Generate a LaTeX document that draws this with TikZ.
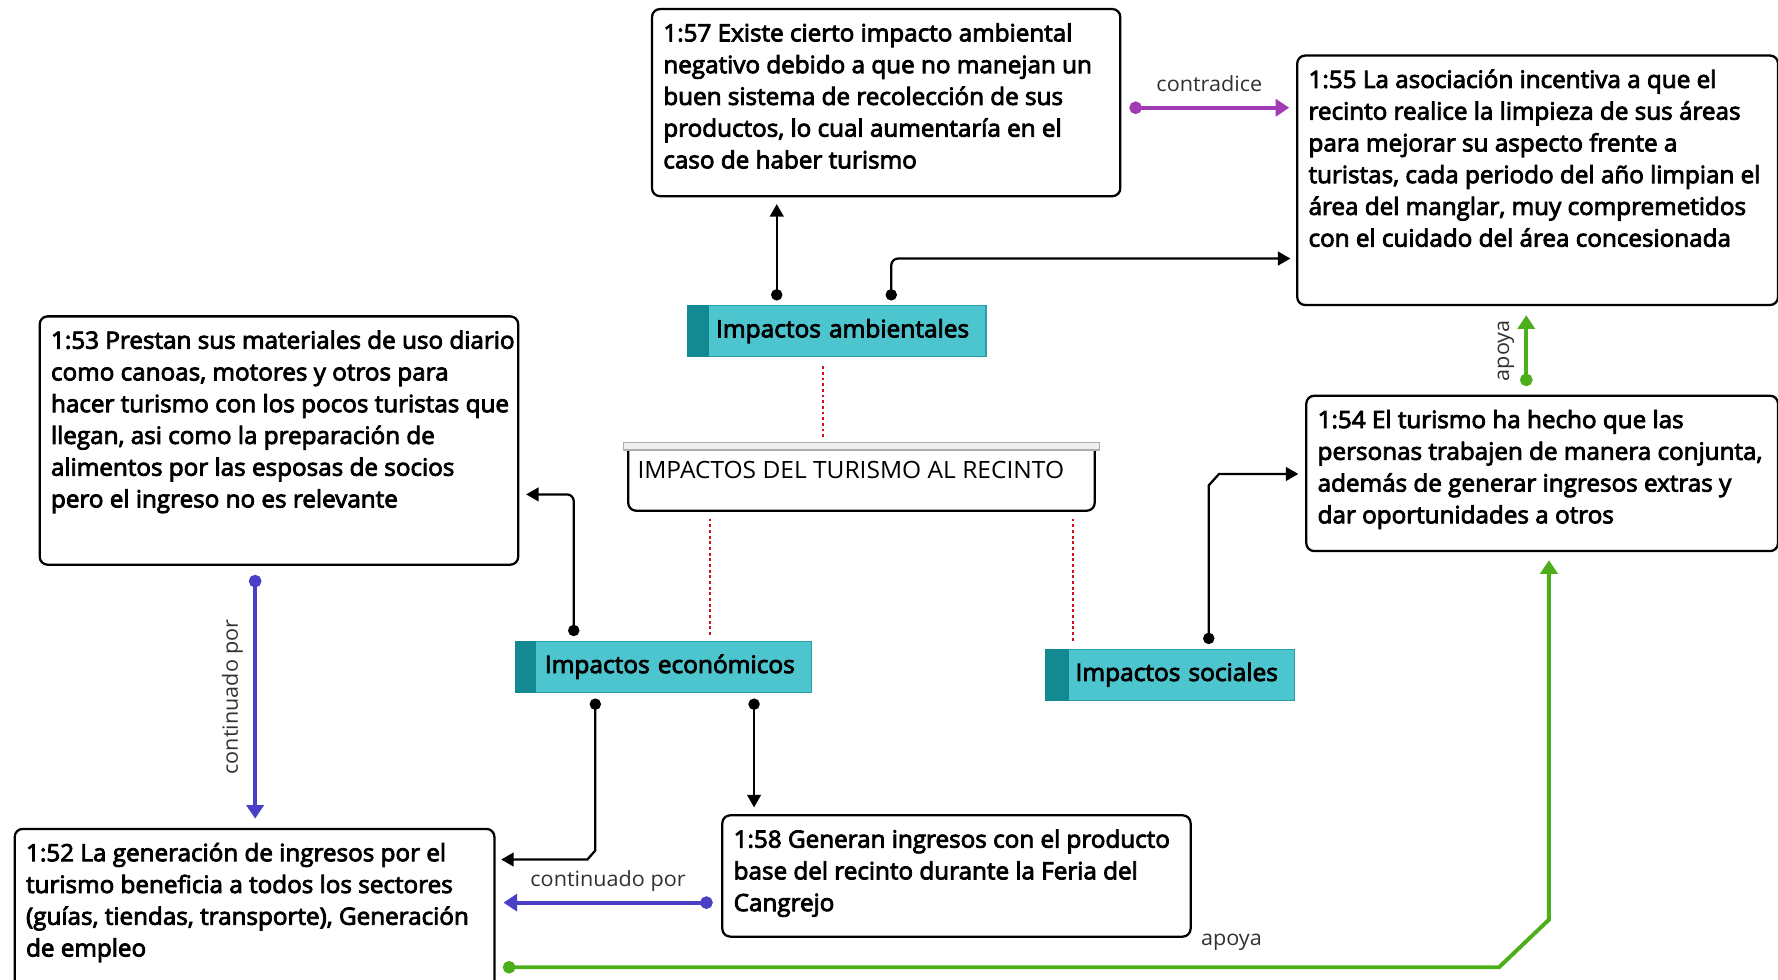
\documentclass[tikz,border=0pt]{standalone}
\usepackage{fontspec}
\setmainfont{Open Sans}
\newfontfamily\bxf{Open Sans}[FakeBold=3.5,FakeStretch=1.018]
\newfontfamily\rgf{Open Sans}[FakeStretch=1.03]
\usetikzlibrary{arrows.meta,calc}
\definecolor{tealfill}{RGB}{77,197,207}
\definecolor{tealdark}{RGB}{19,138,146}
\definecolor{tealline}{RGB}{40,158,168}
\definecolor{linkpurple}{RGB}{161,60,180}
\definecolor{linkblue}{RGB}{75,63,198}
\definecolor{linkgreen}{RGB}{76,175,26}
\definecolor{dotred}{RGB}{208,16,26}
\definecolor{labelgray}{RGB}{50,50,50}
\newcommand{\boxtxt}[3]{\parbox[c][#2][t]{#1}{\bxf\fontsize{21pt}{28pt}\selectfont\begin{tabular}[t]{@{}l@{}}\rule{0pt}{28.5pt}#3\end{tabular}}}
\tikzset{
  txtbox/.style={draw=black, line width=2pt, rounded corners=7pt, fill=white, inner xsep=10pt, inner ysep=0pt, anchor=north west},
  tealbox/.style={fill=tealfill, draw=tealline, line width=1pt, minimum height=45pt, inner xsep=0pt, inner ysep=0pt, anchor=north west, align=left, font=\bxf\fontsize{21.2pt}{24pt}\selectfont},
  conn/.style={line width=2pt, black, {Circle[length=10pt]}-{Triangle[length=11pt,width=12pt]}},
  clink/.style={line width=3.5pt, {Circle[length=11pt]}-{Triangle[length=12pt,width=15pt]}},
  redline/.style={dotred, line width=1.8pt, dash pattern=on 2.5pt off 2.5pt},
  lbl/.style={text=labelgray, font=\rgf\fontsize{18.5pt}{20pt}\selectfont, inner sep=2pt}
}
\begin{document}
\begin{tikzpicture}[x=1pt,y=-1pt]
\useasboundingbox (0,0) rectangle (1568,864);

% text boxes
\node[txtbox] (b57) at (574,7) {\boxtxt{393pt}{165pt}{1:57 Existe cierto impacto ambiental\\negativo debido a que no manejan un\\buen sistema de recolección de sus\\productos, lo cual aumentaría en el\\caso de haber turismo}};
\node[txtbox] (b55) at (1143,48) {\boxtxt{404pt}{220pt}{1:55 La asociación incentiva a que el\\recinto realice la limpieza de sus áreas\\para mejorar su aspecto frente a\\turistas, cada periodo del año limpian el\\área del manglar, muy compremetidos\\con el cuidado del área concesionada}};
\node[txtbox] (b53) at (34,278) {\boxtxt{402pt}{219pt}{1:53 Prestan sus materiales de uso diario\\como canoas, motores y otros para\\hacer turismo con los pocos turistas que\\llegan, asi como la preparación de\\alimentos por las esposas de socios\\pero el ingreso no es relevante}};
\node[txtbox] (b54) at (1151,348) {\boxtxt{396pt}{137pt}{1:54 El turismo ha hecho que las\\personas trabajen de manera conjunta,\\además de generar ingresos extras y\\dar oportunidades a otros}};
\node[txtbox] (b52) at (12,730) {\boxtxt{403pt}{145pt}{1:52 La generación de ingresos por el\\turismo beneficia a todos los sectores\\(guías, tiendas, transporte), Generación\\de empleo}};
\node[txtbox] (b58) at (636,718) {\boxtxt{393pt}{107pt}{1:58 Generan ingresos con el producto\\base del recinto durante la Feria del\\Cangrejo}};

% central node
\node[anchor=north west, inner xsep=8pt, inner ysep=0pt] (cen) at (554,397) {\parbox[c][53pt][t]{395pt}{\rgf\fontsize{21pt}{24pt}\selectfont\rule{0pt}{25pt}IMPACTOS DEL TURISMO AL RECINTO}};
\draw[line width=2pt, rounded corners=7pt] (cen.north west) -- (cen.south west) -- (cen.south east) -- (cen.north east);
\draw[fill=gray!12, draw=gray!65, line width=1.2pt] ($(cen.north west)+(-4,-7)$) rectangle ($(cen.north east)+(4,0)$);

% teal nodes
\node[tealbox, text width=263pt] (amb) at (606,269) {\hspace*{25pt}Impactos ambientales};
\fill[tealdark] (amb.north west) rectangle ($(amb.south west)+(19,0)$);
\node[tealbox, text width=261pt] (eco) at (454,565) {\hspace*{26pt}Impactos económicos};
\fill[tealdark] (eco.north west) rectangle ($(eco.south west)+(19,0)$);
\node[tealbox, text width=219pt] (soc) at (922,572) {\hspace*{26pt}Impactos sociales};
\fill[tealdark] (soc.north west) rectangle ($(soc.south west)+(21,0)$);

% dotted red links
\draw[redline] ($(amb.south west)+(120,8)$) -- ($(cen.north west)+(172,-12)$);
\draw[redline] ($(cen.south west)+(72,7)$) -- ($(eco.north west)+(172,-5)$);
\draw[redline] ($(cen.south west)+(392,7)$) -- ($(soc.north west)+(24,-5)$);

% black connectors
\coordinate (s1) at ($(amb.north west)+(79,-4)$);
\draw[conn] (s1) -- ($(b57.south -| s1)+(0,6)$);
\coordinate (s2) at ($(amb.north west)+(180,-4)$);
\draw[conn, rounded corners=6pt] (s2) |- ($(b55.north west)+(-5,180)$);
\coordinate (s3) at ($(eco.north west)+(52,-4)$);
\draw[conn, rounded corners=6pt] (s3) |- ($(b53.north east)+(6,158)$);
\coordinate (s4) at ($(eco.south west)+(71,5)$);
\coordinate (t4) at ($(b52.north east)+(5,28)$);
\draw[conn] (s4) -- ($(t4 -| s4)+(0,-8)$) -- ($(t4 -| s4)+(-7,0)$) -- (t4);
\coordinate (s5) at ($(eco.south west)+(211,5)$);
\draw[conn] (s5) -- ($(b58.north -| s5)+(0,-6)$);
\coordinate (s6) at ($(soc.north west)+(144,-4)$);
\coordinate (t6) at ($(b54.north west)+(-6,70)$);
\draw[conn] (s6) -- ($(t6 -| s6)+(0,10)$) -- ($(t6 -| s6)+(9,0)$) -- (t6);

% coloured links
\draw[clink, linkpurple] ($(b57.north east)+(7,88)$) -- node[lbl, above=10pt] {contradice} ($(b55.north west)+(-6,47)$);
\coordinate (s7) at ($(b53.south west)+(191,8)$);
\draw[clink, linkblue] (s7) -- node[lbl, rotate=90, above=7pt] {continuado por} ($(b52.north -| s7)+(0,-8)$);
\coordinate (s8) at ($(b58.north west)+(-7.5,78)$);
\draw[clink, linkblue] (s8) -- node[lbl, above=6pt] {continuado por} ($(b52.east |- s8)+(7,0)$);
\coordinate (s9) at ($(b54.north west)+(195,-7.5)$);
\draw[clink, linkgreen] (s9) -- node[lbl, rotate=90, above=7pt] {apoya} ($(b55.south -| s9)+(0,8)$);
\coordinate (s10) at ($(b52.north east)+(6.5,123)$);
\coordinate (t10) at ($(b54.south west)+(215,7)$);
\draw[clink, linkgreen] (s10) -- ($(s10 -| t10)+(-44,0)$) -- ($(t10 |- s10)+(0,-42)$) -- (t10);
\node[lbl] (apoya2) at (1086,831) {apoya};
\end{tikzpicture}
\end{document}
